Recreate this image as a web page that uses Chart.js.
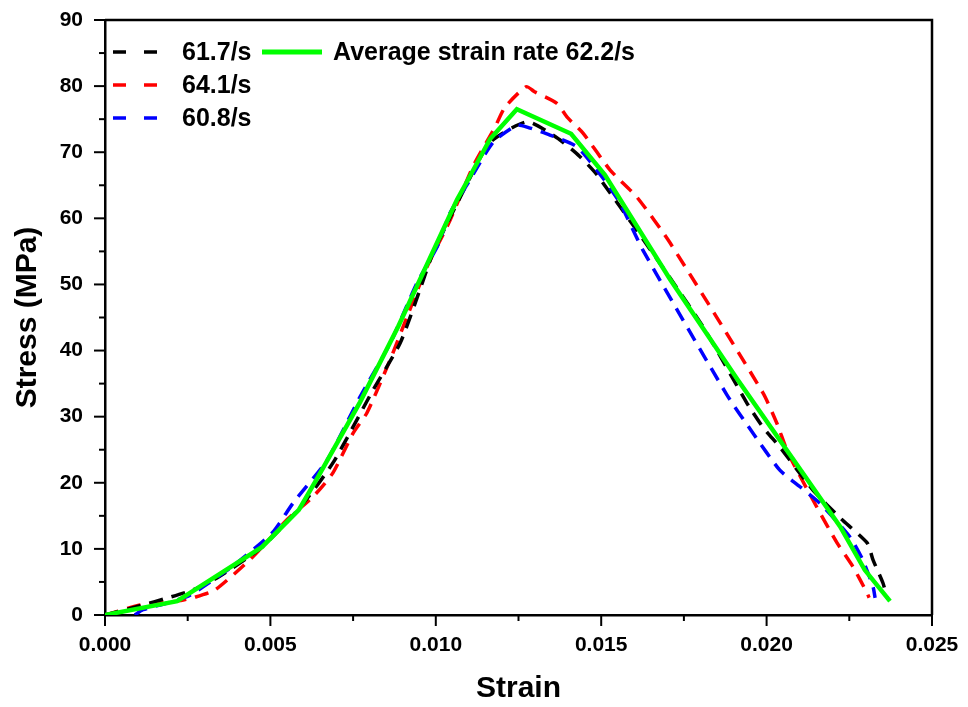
<!DOCTYPE html>
<html>
<head>
<meta charset="utf-8">
<script src="https://cdn.jsdelivr.net/npm/chart.js@4/dist/chart.umd.min.js"></script>
<style>
  body { margin: 0; background: #fff; }
  canvas { display: block; }
</style>
</head>
<body>
<canvas id="stressChart" width="968" height="707"></canvas>
<script>
// strain / stress points
var strain617 = [0, 0.00106, 0.0019, 0.00266, 0.00342, 0.00475, 0.0059, 0.00689, 0.0081, 0.00892, 0.00952, 0.00992, 0.0110, 0.01164, 0.01276, 0.01366, 0.0143, 0.01487, 0.01708, 0.01814, 0.0194, 0.01989, 0.0204, 0.0214, 0.02222, 0.02304, 0.02322, 0.02352, 0.02364];
var stress617 = [0, 1.4, 2.6, 3.8, 5.7, 10.3, 16.3, 23.0, 34.0, 41.1, 49.2, 54.8, 65.8, 71.5, 74.6, 72.2, 69.6, 66.6, 51.0, 43.1, 32.1, 28.4, 25.4, 18.9, 14.7, 10.9, 8.3, 4.8, 2.6];

var strain641 = [0, 0.00106, 0.00218, 0.00272, 0.00333, 0.00447, 0.0055, 0.00629, 0.00689, 0.0075, 0.00792, 0.00862, 0.00913, 0.00973, 0.01043, 0.01112, 0.01179, 0.01209, 0.01273, 0.013, 0.01366, 0.01397, 0.01445, 0.01527, 0.01608, 0.01708, 0.01989, 0.02031, 0.02065, 0.02152, 0.02213, 0.02261, 0.02304, 0.0231];
var stress641 = [0, 1.5, 2.1, 2.7, 3.8, 8.8, 14.4, 17.9, 21.5, 27.5, 30.6, 38.6, 45.1, 52.6, 59.7, 67.8, 73.8, 76.8, 79.9, 79.1, 77.4, 75.3, 72.9, 67.3, 63.2, 56.3, 33.6, 29.0, 24.5, 16.3, 10.9, 7.3, 3.3, 2.6];

var strain608 = [0.0009, 0.00115, 0.00187, 0.00257, 0.00378, 0.00505, 0.00568, 0.00671, 0.00771, 0.00862, 0.00943, 0.01004, 0.01043, 0.01103, 0.01173, 0.01245, 0.01276, 0.01345, 0.01427, 0.01502, 0.01557, 0.01626, 0.0188, 0.01959, 0.0204, 0.02101, 0.02161, 0.02252, 0.02291, 0.02322, 0.02328];
var stress608 = [0, 0.8, 1.8, 3.0, 7.1, 12.4, 16.9, 23.4, 33.0, 41.1, 50.2, 55.7, 60.8, 65.8, 71.5, 74.1, 73.8, 72.6, 70.8, 66.3, 62.3, 55.2, 33.3, 27.5, 21.9, 19.4, 16.9, 11.8, 8.3, 4.2, 2.6];

var strainAvg = [0, 0.00218, 0.00475, 0.00586, 0.00644, 0.00771, 0.00886, 0.01064, 0.01097, 0.01164, 0.01245, 0.01409, 0.01511, 0.01708, 0.01911, 0.02222, 0.02297, 0.02373];
var stressAvg = [0, 2.1, 10.3, 15.9, 20.9, 32.2, 43.6, 62.8, 65.8, 72.0, 76.5, 72.8, 66.6, 50.8, 35.7, 13.4, 6.8, 2.1];

var seriesLabels = ['61.7/s', '64.1/s', '60.8/s', 'Average strain rate 62.2/s'];

function toPoints(xs, ys) {
  var pts = [];
  for (var i = 0; i < xs.length; i++) pts.push({x: xs[i], y: ys[i]});
  return pts;
}

var FONT = 'Arial, "Liberation Sans", sans-serif';

// outward major/minor ticks + top/right frame
var frameTicks = {
  id: 'frameTicks',
  afterDraw: function(chart) {
    var ctx = chart.ctx, a = chart.chartArea;
    var xs = chart.scales.x, ys = chart.scales.y;
    ctx.save();
    ctx.strokeStyle = '#000';
    ctx.lineWidth = 2.5;
    ctx.beginPath();
    ctx.moveTo(a.left, a.top);
    ctx.lineTo(a.right, a.top);
    ctx.lineTo(a.right, a.bottom);
    ctx.stroke();

    ctx.lineWidth = 2;
    function marks(scale, horiz) {
      var vals = scale.ticks.map(function(t) { return t.value; });
      var list = [];
      for (var i = 0; i < vals.length; i++) {
        list.push([vals[i], 11]);
        if (i < vals.length - 1) list.push([(vals[i] + vals[i + 1]) / 2, 6]);
      }
      list.forEach(function(m) {
        var p = scale.getPixelForValue(m[0]);
        ctx.beginPath();
        if (horiz) { ctx.moveTo(p, a.bottom); ctx.lineTo(p, a.bottom + m[1]); }
        else { ctx.moveTo(a.left, p); ctx.lineTo(a.left - m[1], p); }
        ctx.stroke();
      });
    }
    marks(xs, true);
    marks(ys, false);
    ctx.restore();
  }
};

// two-column legend inside the plot, like the original
var sideLegend = {
  id: 'sideLegend',
  afterDraw: function(chart) {
    var ctx = chart.ctx;
    var ds = chart.data.datasets;
    var spots = [[113, 52], [113, 85], [113, 118], [262, 52]];
    ctx.save();
    ctx.font = 'bold 25px ' + FONT;
    ctx.textBaseline = 'middle';
    ctx.fillStyle = '#000';
    ds.forEach(function(d, i) {
      var s = spots[i];
      var dashed = d.borderDash && d.borderDash.length;
      var len = dashed ? 44 : 60;
      ctx.strokeStyle = d.borderColor;
      ctx.lineWidth = dashed ? 3.5 : 5;
      ctx.setLineDash(dashed ? [13, 18] : []);
      ctx.beginPath();
      ctx.moveTo(s[0], s[1]);
      ctx.lineTo(s[0] + len, s[1]);
      ctx.stroke();
      ctx.setLineDash([]);
      ctx.fillText(d.label, s[0] + (dashed ? 69 : 71), s[1] + 1);
    });
    ctx.restore();
  }
};

var ctx = document.getElementById('stressChart').getContext('2d');
var chart = new Chart(ctx, {
  type: 'scatter',
  data: {
    datasets: [{
      label: seriesLabels[0],
      data: toPoints(strain617, stress617),
      borderColor: '#000000',
      borderDash: [14, 9],
      borderWidth: 3.5,
      tension: 0.2,
      order: 2
    }, {
      label: seriesLabels[1],
      data: toPoints(strain641, stress641),
      borderColor: '#ff0000',
      borderDash: [14, 9],
      borderWidth: 3.5,
      tension: 0.2,
      order: 3
    }, {
      label: seriesLabels[2],
      data: toPoints(strain608, stress608),
      borderColor: '#0000ff',
      borderDash: [14, 9],
      borderWidth: 3.5,
      tension: 0.2,
      order: 1
    }, {
      label: seriesLabels[3],
      data: toPoints(strainAvg, stressAvg),
      borderColor: '#00ff00',
      borderWidth: 4.5,
      tension: 0,
      order: 0
    }]
  },
  options: {
    responsive: false,
    animation: false,
    showLine: true,
    elements: { point: { radius: 0, hoverRadius: 0 } },
    layout: { padding: { left: 0, right: 36, top: 20, bottom: 0 } },
    plugins: {
      legend: { display: false },
      tooltip: { enabled: false }
    },
    scales: {
      x: {
        type: 'linear',
        min: 0,
        max: 0.025,
        afterFit: function(s) {
          s.height = 92;
          s.paddingLeft = 0;
          s.paddingRight = 0;
        },
        grid: { display: false, drawTicks: false },
        border: { display: true, color: '#000', width: 2.5 },
        ticks: {
          stepSize: 0.005,
          padding: 18,
          color: '#000',
          font: { family: FONT, size: 21, weight: 'bold' },
          callback: function(v) { return v.toFixed(3); }
        },
        title: {
          display: true,
          text: 'Strain',
          color: '#000',
          padding: { top: 0, bottom: 0 },
          font: { family: FONT, size: 30, weight: 'bold' }
        }
      },
      y: {
        min: 0,
        max: 90,
        afterFit: function(s) {
          s.width = 105;
          s.paddingTop = 0;
          s.paddingBottom = 0;
        },
        grid: { display: false, drawTicks: false },
        border: { display: true, color: '#000', width: 2.5 },
        ticks: {
          stepSize: 10,
          padding: 22,
          color: '#000',
          font: { family: FONT, size: 21, weight: 'bold' }
        },
        title: {
          display: true,
          text: 'Stress (MPa)',
          color: '#000',
          padding: { top: 10, bottom: 0 },
          font: { family: FONT, size: 30, weight: 'bold' }
        }
      }
    }
  },
  plugins: [frameTicks, sideLegend]
});
</script>
</body>
</html>
